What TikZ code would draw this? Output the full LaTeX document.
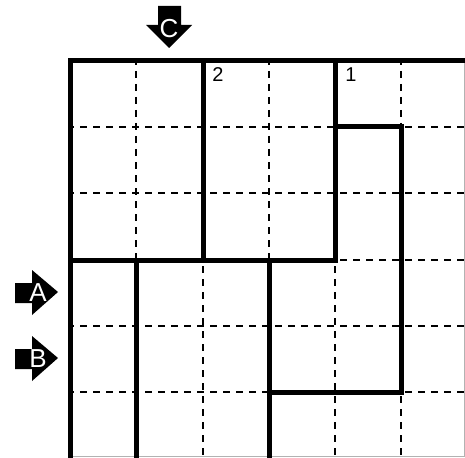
\documentclass[tikz,border=0pt]{standalone}
\usepackage{fontspec}
\setmainfont{Liberation Sans}
\begin{document}
\begin{tikzpicture}[x=1pt,y=-1pt,
  thickline/.style={line width=5pt,line cap=rect},
  dashline/.style={line width=2pt,dash pattern=on 7pt off 6pt,dash phase=3pt},
  numlabel/.style={font=\fontsize{20pt}{20pt}\selectfont,anchor=center,inner sep=0pt},
  arrowletter/.style={font=\fontsize{26pt}{26pt}\selectfont,text=white,inner sep=0pt},
  arrowfill/.style={fill=black,draw=none}]
\useasboundingbox (0,0) rectangle (465,457);
% dashed grid lines
\foreach \x in {136,203,269,335,401} \draw[dashline] (\x,61) -- (\x,458);
\foreach \y in {127,193,260,326,392} \draw[dashline] (70,\y) -- (466,\y);
% thin border right and bottom
\draw[gray!60,line width=0.8pt] (464,61) -- (464,456) -- (70,456);
% thick walls
\draw[thickline] (465,61) -- (70,61) -- (70,458);
\draw[thickline] (203,61) -- (203,260);
\draw[thickline] (335,61) -- (335,260);
\draw[thickline] (70,260) -- (335,260);
\draw[thickline] (335,127) -- (401,127) -- (401,392) -- (269,392);
\draw[thickline] (269,260) -- (269,458);
\draw[thickline] (136,260) -- (136,458);
% numbers
\node[numlabel] (n2) at (218,75) {2};
\node[numlabel] (n1) at (351,75) {1};
% arrow C
\fill[arrowfill] (158,6) -- (181,6) -- (181,25) -- (192,25) -- (169,48) -- (146,25) -- (158,25) -- cycle;
\node[arrowletter] (C) at (169,29) {C};
% arrow A
\fill[arrowfill] (15,283) -- (32,283) -- (32,270) -- (58,292) -- (32,315) -- (32,303) -- (15,303) -- cycle;
\node[arrowletter] (A) at (38,293) {A};
% arrow B
\fill[arrowfill] (15,349) -- (32,349) -- (32,336) -- (58,358) -- (32,381) -- (32,369) -- (15,369) -- cycle;
\node[arrowletter] (B) at (38,359) {B};
\end{tikzpicture}
\end{document}
